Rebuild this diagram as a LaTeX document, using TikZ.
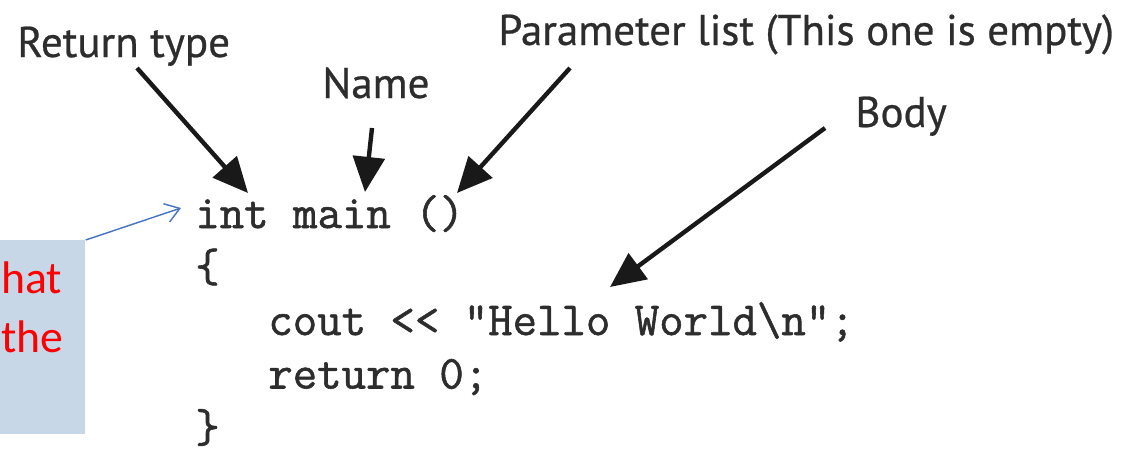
\documentclass[tikz,border=0pt]{standalone}
\usepackage{fontspec}
\usepackage{tikz}
\usetikzlibrary{positioning,arrows.meta,calc}
\usepackage{xcolor}
\newfontfamily\labelfont[FakeBold=0.6]{PT Sans}
\newfontfamily\codefont[FakeBold=1.2]{Latin Modern Mono}
\newfontfamily\notefont{Carlito}
\definecolor{noteblue}{RGB}{199,215,232}
\definecolor{linkblue}{RGB}{68,114,196}
\definecolor{inkgray}{RGB}{45,45,45}

\begin{document}
\begin{tikzpicture}[x=0.02cm, y=-0.02cm,
  partlabel/.style={inner sep=0pt, anchor=base west, text=inkgray, font=\labelfont\fontsize{24.5pt}{28pt}\selectfont},
  codeline/.style={inner sep=0pt, anchor=base west, text=inkgray, font=\codefont\fontsize{27pt}{30pt}\selectfont},
  notetext/.style={inner sep=0pt, text=red, font=\notefont\fontsize{26pt}{30pt}\selectfont},
  pointer/.style={draw=black!90, line width=2.5pt, -{Triangle[length=20pt,width=18pt]}}]
\useasboundingbox (0,0) rectangle (1124,454);
\clip (0,0) rectangle (1124,454);

% Note box (at the left edge)
\node[fill=noteblue, inner sep=0pt, minimum width=1.7cm, minimum height=3.88cm, anchor=north west] (note) at (0,240) {};
\node[notetext, anchor=base west] (noteone) at (1,293) {hat};
\node[notetext, anchor=base west] (notetwo) at (1,352) {the};
\coordinate (notetip) at (181,208);
\draw[linkblue, line width=0.8pt, -{Straight Barb[length=8pt,width=11pt]}] (note.north east) -- (notetip);

% Code
\node[codeline] (line1) at (195,228) {int main ()};
\node[codeline] (line2) at (195,281.5) {\{};
\node[codeline] (line3) at (268,335) {cout << "Hello World\textbackslash n";};
\node[codeline] (line4) at (268,388.5) {return 0;};
\node[codeline] (line5) at (195,442) {\}};

% Labels
\node[partlabel] (rettype) at (17,57) {Return type};
\node[partlabel] (name) at (322,98) {Name};
\node[partlabel] (params) at (498,45) {Parameter list (This one is empty)};
\node[partlabel] (body) at (855,127) {Body};

% Pointers
\coordinate (rettail) at (137,68);
\coordinate (rettip) at (248,193);
\coordinate (nametail) at (372,128);
\coordinate (nametip) at (365,192);
\coordinate (paramtail) at (570,68);
\coordinate (paramtip) at (457,193);
\coordinate (bodytail) at (825,128);
\coordinate (bodytip) at (610,287);
\draw[pointer] (rettail) -- (rettip);
\draw[pointer] (nametail) -- (nametip);
\draw[pointer] (paramtail) -- (paramtip);
\draw[pointer] (bodytail) -- (bodytip);
\end{tikzpicture}
\end{document}
